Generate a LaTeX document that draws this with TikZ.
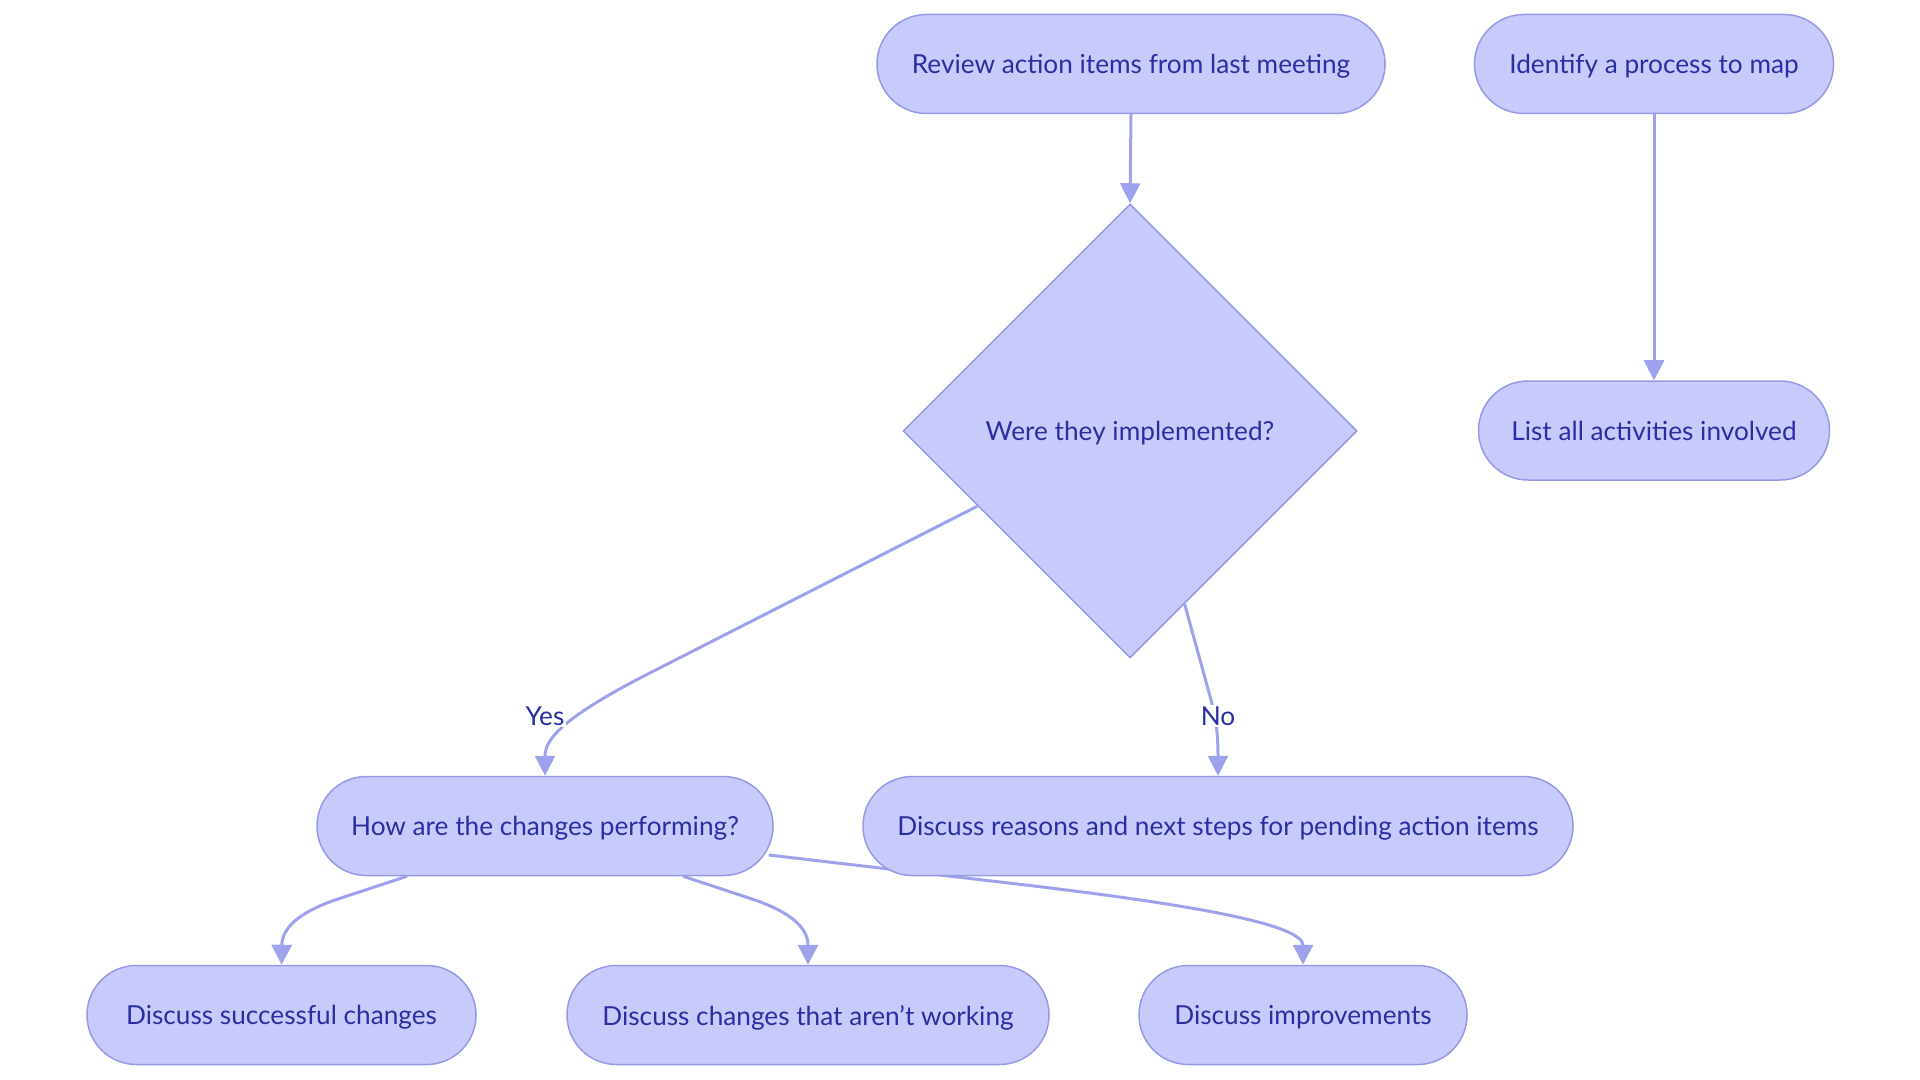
\documentclass[tikz,border=0pt]{standalone}
\usepackage{fontspec}
\setmainfont{Lato}
\usetikzlibrary{shapes.geometric,arrows.meta,calc}
\definecolor{nodefill}{RGB}{200,202,252}
\definecolor{nodeline}{RGB}{150,154,228}
\definecolor{edgecol}{RGB}{158,162,236}
\definecolor{txt}{RGB}{42,46,160}
\pgfdeclarelayer{edges}
\pgfsetlayers{edges,main}
\tikzset{
  pill/.style={draw=nodeline, fill=nodefill, line width=0.75pt, rounded corners=24.7pt,
    minimum height=49.5pt, inner sep=0pt, text=txt, text depth=0pt, font=\fontsize{13.1}{15}\selectfont},
  decision/.style={diamond, draw=nodeline, fill=nodefill, line width=0.75pt, aspect=1,
    minimum width=227pt, minimum height=227pt, inner sep=0pt, text=txt, text depth=0pt, font=\fontsize{13.1}{15}\selectfont},
  conn/.style={draw=edgecol, line width=1.5pt, -{Triangle[length=10pt,width=10pt]}},
  elabel/.style={fill=white, inner sep=1pt, text=txt, text depth=0pt, font=\fontsize{13.1}{15}\selectfont}
}
\begin{document}
\begin{tikzpicture}[x=0.5pt,y=-0.5pt]
\useasboundingbox (0,0) rectangle (1920,1080);
\node[pill, minimum width=254pt] (review) at (1131,64) {Review action items from last meeting};
\node[pill, minimum width=179.5pt] (identify) at (1654,64) {Identify a process to map};
\node[decision] (dia) at (1130,431) {Were they implemented?};
\node[pill, minimum width=175.5pt] (list) at (1654,430.5) {List all activities involved};
\node[pill, minimum width=228pt] (how) at (545,826) {How are the changes performing?};
\node[pill, minimum width=355pt] (reasons) at (1218,826) {Discuss reasons and next steps for pending action items};
\node[pill, minimum width=194.5pt] (succ) at (281.5,1015) {Discuss successful changes};
\node[pill, minimum width=241pt] (chg) at (808,1015) {Discuss changes that aren't working};
\node[pill, minimum width=164pt] (imp) at (1303,1015) {Discuss improvements};
\begin{pgfonlayer}{edges}
\draw[conn] (review.south) -- (dia.north);
\draw[conn] (identify.south) -- (list.north);
\draw[conn] ($(dia.west)!0.33!(dia.south)$) -- (640,678) .. controls (560,720) and (545,740) .. (how.north);
\draw[conn] ($(dia.south)!0.24!(dia.east)$) -- (1211,700) .. controls (1215,715) and (1218,730) .. (reasons.north);
\draw[conn] ([xshift=-69pt]how.south) -- (335,900) .. controls (295,914) and (282,930) .. (succ.north);
\draw[conn] ([xshift=69pt]how.south) -- (755,900) .. controls (795,914) and (808,930) .. (chg.north);
\draw[conn] ([xshift=-2.5pt,yshift=-14.5pt]how.east) -- (1000,882) .. controls (1200,905) and (1303,925) .. (imp.north);
\end{pgfonlayer}
\node[elabel] (yes) at (545,716) {Yes};
\node[elabel] (no) at (1218,716) {No};
\end{tikzpicture}
\end{document}
